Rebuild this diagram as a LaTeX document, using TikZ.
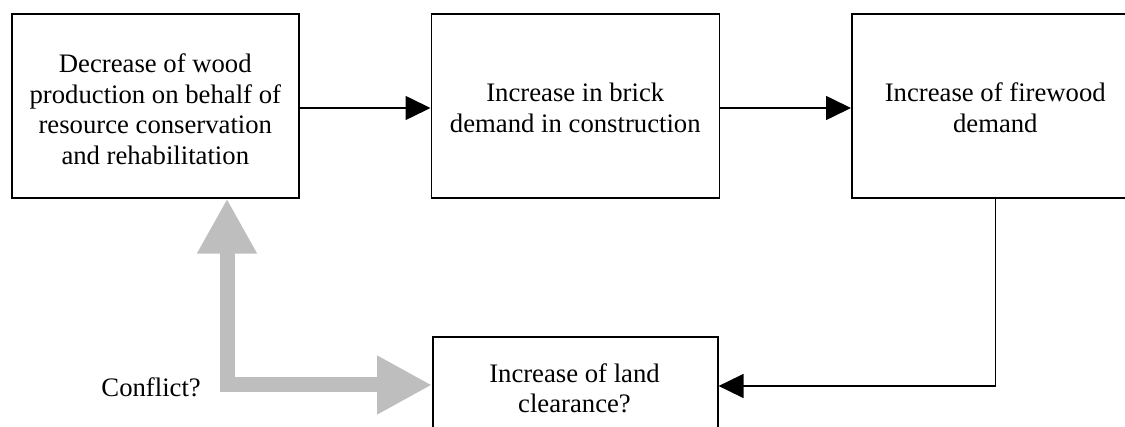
\documentclass[tikz,border=0pt]{standalone}
\usepackage{fontspec}
\setmainfont{Liberation Serif}
\usetikzlibrary{arrows.meta}
\definecolor{conflictgray}{RGB}{190,190,190}
\begin{document}
\begin{tikzpicture}[x=1pt,y=-1pt,
  stage/.style={draw=black, line width=1.6pt, inner sep=0pt, anchor=north west},
  txt/.style={align=center, font=\fontsize{26.7pt}{30.4pt}\selectfont, inner sep=0pt},
  flow/.style={line width=1.6pt, -{Triangle[length=25pt,width=24pt]}},
  conflict/.style={draw=conflictgray, line width=15pt, line join=miter,
    {Triangle[length=55pt,width=56pt]}-{Triangle[length=55pt,width=55pt]}}]
\useasboundingbox (0,0) rectangle (1125,427);

% process boxes
\node[stage, minimum width=287pt, minimum height=184pt] (b1) at (11,13) {};
\node[stage, minimum width=288pt, minimum height=184pt] (b2) at (430.5,13) {};
\node[stage, minimum width=287pt, minimum height=184pt] (b3) at (851,13) {};
\node[stage, minimum width=285pt, minimum height=184pt] (b4) at (432,336) {};

% box texts
\node[txt] (t1) at ([yshift=-3.5pt]b1.center) {Decrease of wood\\production on behalf of\\resource conservation\\and rehabilitation};
\node[txt] (t2) at ([yshift=-2pt]b2.center) {Increase in brick\\demand in construction};
\node[txt] (t3) at ([yshift=-2pt]b3.center) {Increase of firewood\\demand};
\node[txt] (t4) at (574.5,388) {Increase of land\\clearance?};

% causal chain
\draw[flow] (b1.east |- 0,108) -- (b2.west |- 0,108);
\draw[flow] (b2.east |- 0,108) -- (b3.west |- 0,108);
\coordinate (fold) at (b3.south |- 0,386);
\draw[flow] (b3.south) -- (fold) -- (fold -| b4.east);

% conflict between the two ends of the loop
\coordinate (gcorner) at (227,385);
\draw[conflict] (b1.south -| gcorner) -- (gcorner) -- (gcorner -| b4.west);
\node[font=\fontsize{26.7pt}{30.4pt}\selectfont, inner sep=0pt, anchor=base east] (cq) at (201,397) {Conflict?};
\end{tikzpicture}
\end{document}
